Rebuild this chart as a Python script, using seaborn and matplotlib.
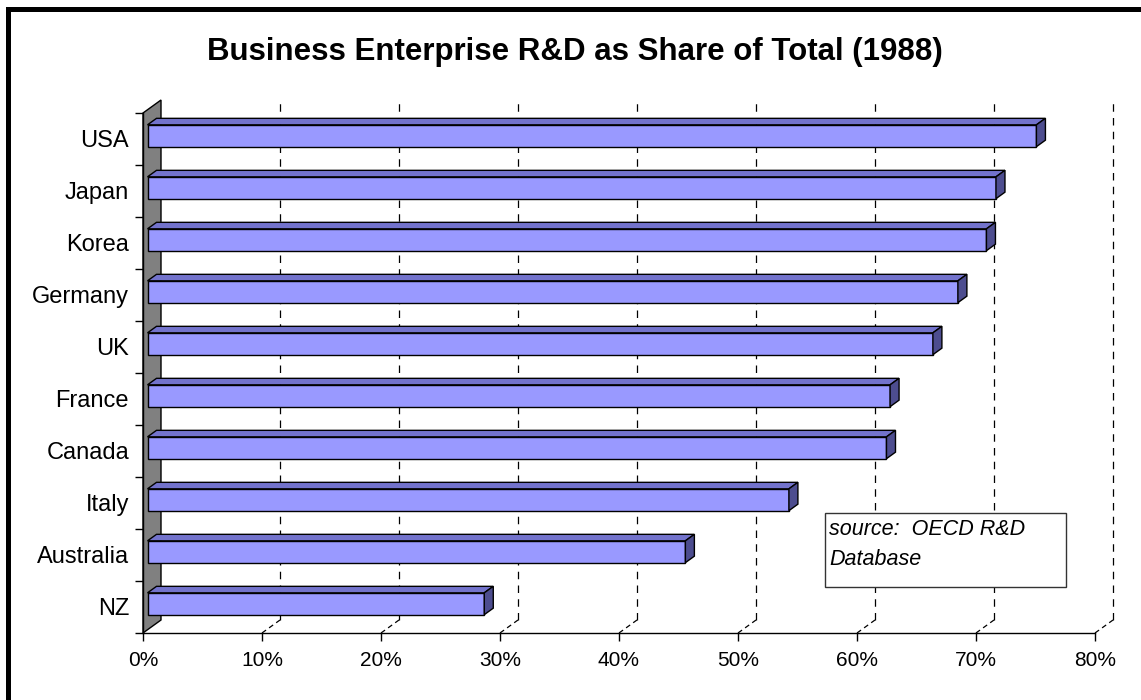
import pandas as pd
import matplotlib
matplotlib.use("Agg")
from matplotlib import pyplot as plt
from matplotlib import transforms as mtransforms
from matplotlib.patches import Polygon, Rectangle
import seaborn as sns

countries = ["USA", "Japan", "Korea", "Germany", "UK", "France", "Canada", "Italy", "Australia", "NZ"]
share = [74.7, 71.3, 70.5, 68.1, 66.0, 62.4, 62.1, 53.9, 45.2, 28.3]
x_ticks = [0, 10, 20, 30, 40, 50, 60, 70, 80]
x_labels = [f"{t}%" for t in x_ticks]
title = "Business Enterprise R&D as Share of Total (1988)"
source_lines = ["source:  OECD R&D", "Database"]

sns.set_style("ticks")
plt.rcParams["font.family"] = ["Liberation Sans", "DejaVu Sans"]
plt.rcParams["text.color"] = "black"
plt.rcParams["xtick.color"] = "black"
plt.rcParams["ytick.color"] = "black"
plt.rcParams["axes.labelcolor"] = "black"

W, H = 1141, 700
fig = plt.figure(figsize=(W / 100, H / 100), dpi=100)
ax = fig.add_axes([143 / W, 1 - 633 / H, (1095 - 143) / W, (633 - 113) / H])

df = pd.DataFrame({"country": countries, "share": share})
sns.barplot(data=df, x="share", y="country", orient="h", color="#9999FF",
            saturation=1, width=0.42, edgecolor="black", linewidth=1, ax=ax)

ax.set_xlim(0, 80)
ax.set_ylim(len(countries) - 0.5, -0.5)

# pixel -> data helpers for the fake 3D depth
px_x = 80 / (1095 - 143)
px_y = 1 / 52
DX, DY = 18 * px_x, -13 * px_y      # depth of the back wall
bdx, bdy = 9 * px_x, -6.5 * px_y    # depth of each bar

# back wall
wall = Polygon([(0, -0.5), (DX, -0.5 + DY), (DX, 9.5 + DY), (0, 9.5)],
               closed=True, facecolor="#808080", edgecolor="black", lw=1,
               clip_on=False, zorder=1)
ax.add_patch(wall)

# dashed gridlines on back wall + floor
for t in x_ticks[1:]:
    ax.plot([t + DX, t + DX], [9.5 + DY, -0.5 + DY], color="black", lw=0.9,
            ls=(0, (6, 5)), clip_on=False, zorder=1)
    ax.plot([t, t + DX], [9.5, 9.5 + DY], color="black", lw=0.9,
            ls=(0, (4, 3)), clip_on=False, zorder=1)

# shift the bars half into the depth and add top/side faces
off = mtransforms.ScaledTranslation(4.5 / 100, 3.25 / 100, fig.dpi_scale_trans)
tr = ax.transData + off
for p in list(ax.patches):
    if not isinstance(p, Rectangle):
        continue
    p.set_transform(tr)
    p.set_zorder(4)
    p.set_clip_on(False)
    x0, y0, w, h = p.get_x(), p.get_y(), p.get_width(), p.get_height()
    top = Polygon([(x0, y0), (x0 + w, y0), (x0 + w + bdx, y0 + bdy), (x0 + bdx, y0 + bdy)],
                  closed=True, facecolor="#7373CC", edgecolor="black", lw=1,
                  transform=tr, clip_on=False, zorder=4)
    side = Polygon([(x0 + w, y0), (x0 + w + bdx, y0 + bdy), (x0 + w + bdx, y0 + h + bdy), (x0 + w, y0 + h)],
                   closed=True, facecolor="#4D4D8F", edgecolor="black", lw=1,
                   transform=tr, clip_on=False, zorder=4)
    ax.add_patch(top)
    ax.add_patch(side)

for s in ["top", "right"]:
    ax.spines[s].set_visible(False)
for s in ["left", "bottom"]:
    ax.spines[s].set_color("black")
    ax.spines[s].set_linewidth(1)
    ax.spines[s].set_zorder(5)

ax.set_xticks(x_ticks)
ax.set_xticklabels(x_labels)
ax.set_yticks(range(len(countries)))
ax.set_yticklabels(countries)
ax.set_yticks([i - 0.5 for i in range(len(countries) + 1)], minor=True)
ax.tick_params(axis="x", length=6, width=1, color="black", labelcolor="black", labelsize=15, pad=7)
ax.tick_params(axis="y", which="major", length=0, labelcolor="black", labelsize=17, pad=10)
ax.tick_params(axis="y", which="minor", length=6, width=1, color="black")
ax.set_xlabel("")
ax.set_ylabel("")

# title
fig.text(575 / W, 1 - 60 / H, title, ha="center", va="baseline",
         fontsize=22.5, fontweight="bold", color="black")

# source box
fig.add_artist(Rectangle((825 / W, 1 - 587 / H), (1066 - 825) / W, (587 - 513) / H,
                         transform=fig.transFigure, facecolor="white",
                         edgecolor="#333333", lw=1, zorder=6))
for i, line in enumerate(source_lines):
    fig.text(829 / W, 1 - (535 + 30 * i) / H, line, ha="left", va="baseline",
             fontsize=15.5, style="italic", color="black", zorder=7)

# outer frame
fig.add_artist(Rectangle((7.5 / W, -0.1), 2, 1 - 9 / H + 0.1, transform=fig.transFigure,
                         fill=False, edgecolor="black", lw=3.6))

fig.savefig("out.png", dpi=100)
